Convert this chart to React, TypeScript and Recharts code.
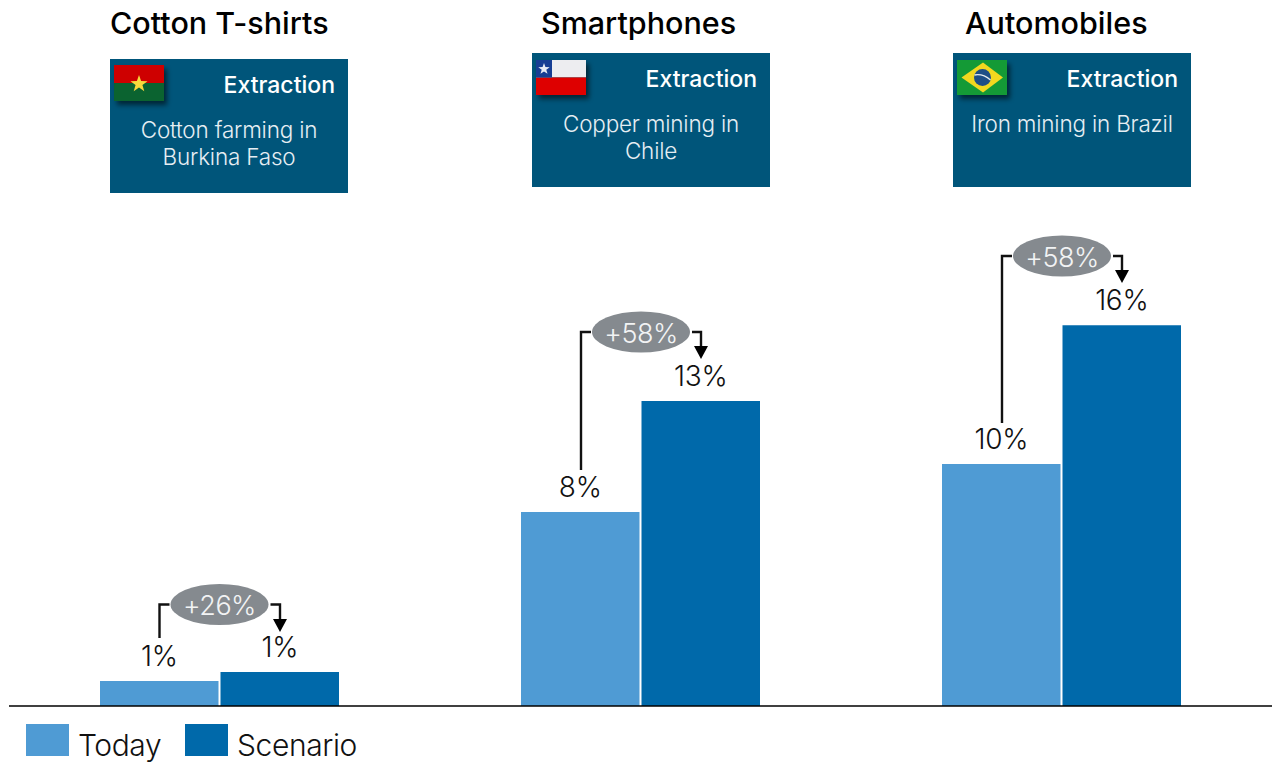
import React from 'react';
import { BarChart, Bar, XAxis, YAxis, LabelList, Legend } from 'recharts';

const categories = ['Cotton T-shirts', 'Smartphones', 'Automobiles'];
const seriesNames = ['Today', 'Scenario'];
const todayValues = [1.03, 8, 9.98];
const scenarioValues = [1.4, 12.58, 15.7];
const changeLabels = ['+26%', '+58%', '+58%'];
const stageLabels = ['Extraction', 'Extraction', 'Extraction'];
const panelLines = [
  ['Cotton farming in', 'Burkina Faso'],
  ['Copper mining in', 'Chile'],
  ['Iron mining in Brazil'],
];

const chartData = categories.map((name, i) => ({
  name,
  Today: todayValues[i],
  Scenario: scenarioValues[i],
}));

const FONT = 'Inter, "Liberation Sans", sans-serif';
const TODAY = '#4F9BD4';
const SCENARIO = '#0069AA';
const PANEL = '#00557A';
const INK = '#111';

const layout = [
  { titleX: 110, panelX: 110, panelY: 59, cx: 219.5, cy: 604.5, left: 159.5, leftEnd: 638, right: 280, tip: 632 },
  { titleX: 541, panelX: 532, panelY: 53, cx: 641, cy: 332, left: 581, leftEnd: 470, right: 701, tip: 359 },
  { titleX: 965, panelX: 953, panelY: 53, cx: 1062, cy: 256, left: 1002, leftEnd: 423, right: 1122, tip: 283 },
];

function star(cx: number, cy: number, r: number) {
  const pts: string[] = [];
  for (let i = 0; i < 10; i++) {
    const rad = i % 2 ? r * 0.4 : r;
    const a = -Math.PI / 2 + (i * Math.PI) / 5;
    pts.push(`${cx + rad * Math.cos(a)},${cy + rad * Math.sin(a)}`);
  }
  return pts.join(' ');
}

function Flag({ index, x, y }: { index: number; x: number; y: number }) {
  const h = index === 0 ? 36 : 35;
  return (
    <g transform={`translate(${x},${y})`}>
      <rect x={0} y={0} width={50} height={h} fill="#000" opacity={0.55} filter="url(#shadow)" transform="translate(3,4)" />
      {index === 0 && (
        <>
          <rect width={50} height={18} fill="#CE0000" />
          <rect y={18} width={50} height={18} fill="#0B6330" />
          <polygon points={star(25, 19, 9)} fill="#F7D93C" />
        </>
      )}
      {index === 1 && (
        <>
          <rect width={50} height={17.5} fill="#EDEDF0" />
          <rect y={17.5} width={50} height={17.5} fill="#DE0000" />
          <rect width={16} height={17.5} fill="#173E94" />
          <polygon points={star(8, 9, 6)} fill="#E8ECF5" />
        </>
      )}
      {index === 2 && (
        <>
          <rect width={50} height={35} fill="#149A36" />
          <polygon points="4.5,17.5 26,2.5 46,17.5 26,32.5" fill="#F2D81F" />
          <circle cx={25.5} cy={17.5} r={8.5} fill="#1E4E86" />
          <path d="M17.5 15 Q26 13.5 33.5 20" stroke="#E6ECEF" strokeWidth={1.3} fill="none" />
        </>
      )}
    </g>
  );
}

function Overlay() {
  return (
    <svg width={1274} height={763} style={{ position: 'absolute', left: 0, top: 0, pointerEvents: 'none' }} fontFamily={FONT}>
      <defs>
        <filter id="shadow" x="-30%" y="-30%" width="160%" height="160%">
          <feGaussianBlur stdDeviation={2.5} />
        </filter>
      </defs>
      {layout.map((l, i) => {
        const lines = panelLines[i];
        const mid = l.panelX + 119;
        return (
          <g key={i}>
            <text x={l.titleX} y={33.5} fontSize={30.5} fontWeight={500} fill="#000">{categories[i]}</text>
            <rect x={l.panelX} y={l.panelY} width={238} height={134} fill={PANEL} />
            <Flag index={i} x={l.panelX + 4} y={l.panelY + (i === 0 ? 6 : 7)} />
            <text x={l.panelX + 225} y={l.panelY + 33.5} textAnchor="end" fontSize={23} fontWeight={500} fill="#fff">{stageLabels[i]}</text>
            {lines.map((t, k) => (
              <text key={k} x={mid} y={l.panelY + 78.5 + k * 27.5} textAnchor="middle" fontSize={22.5} fontWeight={300} fill="#E6EEF3" letterSpacing={-0.2}>{t}</text>
            ))}
            <path d={`M${l.left} ${l.leftEnd} V${l.cy} H${l.cx - 50}`} fill="none" stroke={INK} strokeWidth={2.4} />
            <path d={`M${l.cx + 51} ${l.cy} H${l.right} V${l.tip - 10}`} fill="none" stroke={INK} strokeWidth={2.4} />
            <polygon points={`${l.right - 7},${l.tip - 13} ${l.right + 7},${l.tip - 13} ${l.right},${l.tip}`} fill="#000" />
            <ellipse cx={l.cx} cy={l.cy} rx={49} ry={20.5} fill="#858A8F" />
            <text x={l.cx} y={l.cy + 10.5} textAnchor="middle" fontSize={27} fontWeight={300} fill="#F2F3F4" letterSpacing={-0.5}>{changeLabels[i]}</text>
          </g>
        );
      })}
    </svg>
  );
}

function LegendContent({ payload }: any) {
  const items = seriesNames.map((n) => (payload || []).find((p: any) => p.value === n)).filter(Boolean);
  return (
    <div style={{ position: 'relative', height: 40, fontFamily: FONT }}>
      {items.map((p: any, i: number) => (
        <React.Fragment key={p.value}>
          <div style={{ position: 'absolute', left: i === 0 ? 26 : 185, top: 4, width: 43, height: 32, background: p.color }} />
          <div style={{ position: 'absolute', left: i === 0 ? 78 : 237, top: 3, fontSize: 30, fontWeight: 300, lineHeight: '44px', color: '#111', letterSpacing: -0.4, whiteSpace: 'nowrap' }}>{p.value}</div>
        </React.Fragment>
      ))}
    </div>
  );
}

const labelStyle = { fontFamily: FONT, fontSize: 28, fontWeight: 300, fill: '#111', letterSpacing: -0.3 };
const pct = (v: any) => `${Math.round(Number(v))}%`;

export default function App() {
  return (
    <div style={{ position: 'absolute', left: 0, top: 0, width: 1274, height: 763, background: '#fff', overflow: 'hidden' }}>
      <BarChart
        width={1274}
        height={763}
        data={chartData}
        margin={{ top: 221, right: 2, bottom: 0, left: 9 }}
        barSize={118.5}
        barGap={2}
      >
        <XAxis dataKey="name" tick={false} tickLine={false} height={17} axisLine={{ stroke: '#000', strokeWidth: 1.6 }} />
        <YAxis hide domain={[0, 20]} />
        <Legend
          content={<LegendContent />}
          verticalAlign="bottom"
          wrapperStyle={{ left: 0, top: 720, width: 500, height: 40, bottom: 'auto' }}
        />
        <Bar dataKey="Today" fill={TODAY} isAnimationActive={false}>
          <LabelList dataKey="Today" position="top" offset={15} formatter={pct} style={labelStyle} />
        </Bar>
        <Bar dataKey="Scenario" fill={SCENARIO} isAnimationActive={false}>
          <LabelList dataKey="Scenario" position="top" offset={15} formatter={pct} style={labelStyle} />
        </Bar>
      </BarChart>
      <Overlay />
    </div>
  );
}
